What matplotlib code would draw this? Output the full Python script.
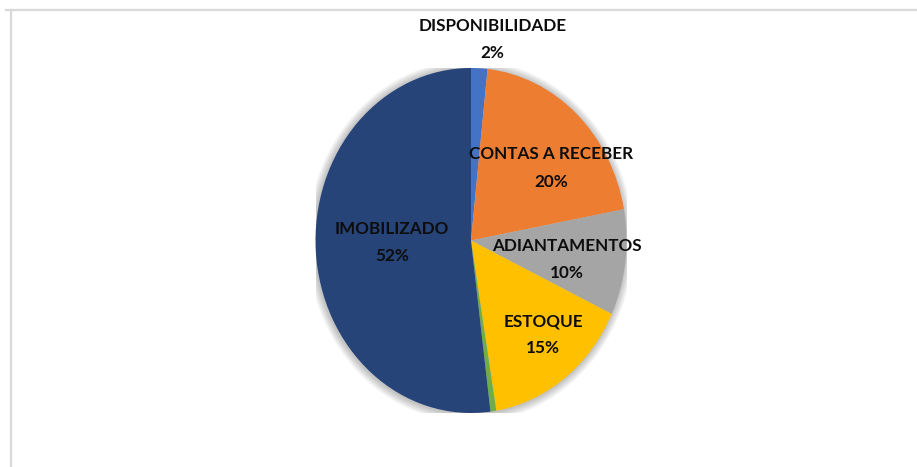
import matplotlib
matplotlib.use("Agg")
import matplotlib.pyplot as plt
from matplotlib.lines import Line2D
from matplotlib.patches import Ellipse

# slice data (clockwise from 12 o'clock)
categories = ["DISPONIBILIDADE", "CONTAS A RECEBER", "ADIANTAMENTOS",
              "ESTOQUE", "OUTROS", "IMOBILIZADO"]
shares = [1.7, 20.4, 9.9, 15.4, 0.6, 52.0]
colors = ["#4472C4", "#ED7D31", "#A5A5A5", "#FFC000", "#70AD47", "#264478"]
show_label = [True, True, True, True, False, True]

# label centres in pie units (x right, y up; pie radius = 1)
label_pos = [(0.14, 1.165), (0.515, 0.42), (0.617, -0.11),
             (0.463, -0.547), None, (-0.51, -0.01)]

W, H = 917, 467
fig = plt.figure(figsize=(W / 100, H / 100), dpi=100)
fig.patch.set_facecolor("white")

# pie box in pixels: x 315.5..626.5, y 68..413 (slightly taller than wide)
ax = fig.add_axes([315.5 / W, (H - 413) / H, 311 / W, 345 / H])

# soft shadow like the excel chart
for i in range(7):
    s = 1.0 + 0.007 * (i + 1)
    ax.add_patch(Ellipse((-0.004, -0.004), 2 * s, 2 * s, color="black",
                         alpha=0.035, lw=0, zorder=0))

wedges, _ = ax.pie(shares, colors=colors, startangle=90, counterclock=False,
                   wedgeprops=dict(linewidth=0))
for w in wedges:
    w.set_zorder(2)

ax.set_aspect("auto")
ax.set_xlim(-1, 1)
ax.set_ylim(-1, 1)
ax.axis("off")

for name, val, pos, show in zip(categories, shares, label_pos, show_label):
    if not show:
        continue
    ax.text(pos[0], pos[1], f"{name}\n{val:.0f}%", ha="center", va="center",
            family="Lato", fontweight="bold", fontsize=12.3, color="#0d0d0d",
            linespacing=1.86, zorder=5)

# chart area border (only top and left visible in the crop)
fig.add_artist(Line2D([6 / W, 1], [1 - 10 / H, 1 - 10 / H],
                      transform=fig.transFigure, color="#d9d9d9", lw=1.6))
fig.add_artist(Line2D([11 / W, 11 / W], [0, 1 - 10 / H],
                      transform=fig.transFigure, color="#d9d9d9", lw=1.6))

fig.savefig("out.png", dpi=100, facecolor="white")
